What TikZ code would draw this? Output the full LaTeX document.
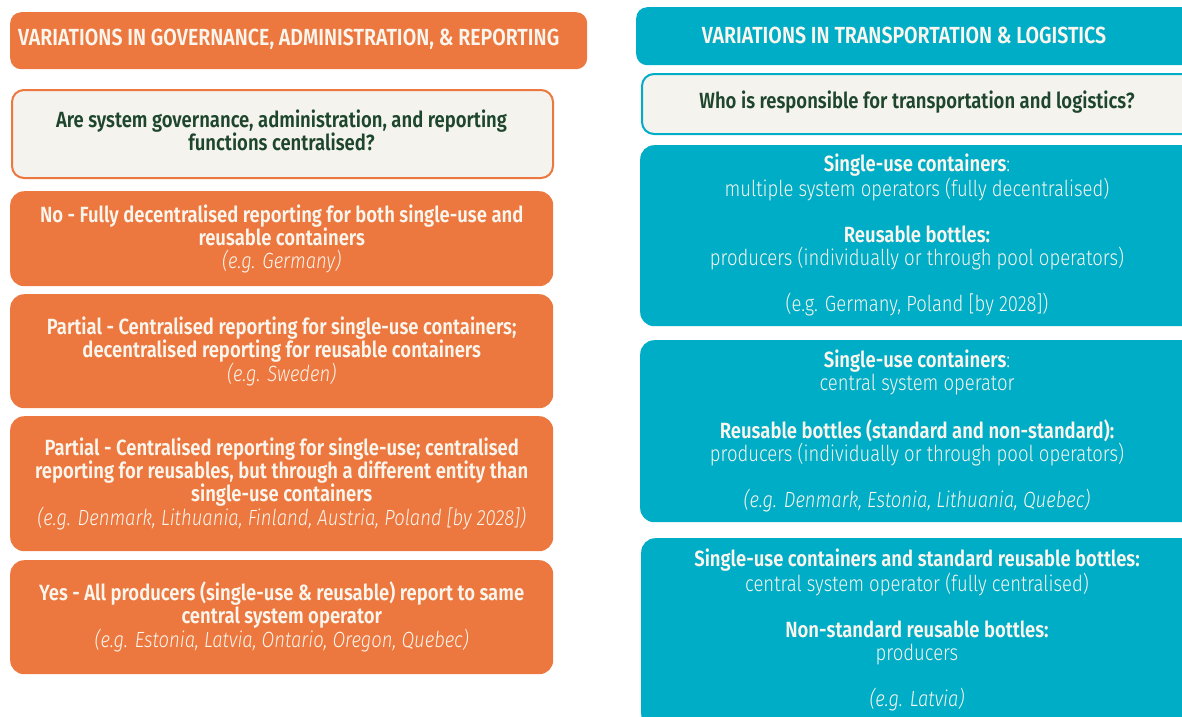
\documentclass[tikz,border=0pt]{standalone}
\usepackage{fontspec}
\setmainfont{Fira Sans}[FakeStretch=0.84, UprightFont={* Light}, BoldFont={* SemiBold}, ItalicFont={* Light Italic}, BoldItalicFont={* SemiBold Italic}]
\definecolor{orng}{RGB}{236,120,63}
\definecolor{teal}{RGB}{0,173,198}
\definecolor{cream}{RGB}{245,243,238}
\definecolor{dgreen}{RGB}{30,70,45}
\definecolor{ltxt}{RGB}{250,246,238}
\tikzset{
  base/.style={rectangle, inner sep=0pt, align=center, font=\fontsize{22}{23}\selectfont},
  txt/.style={inner sep=0pt, align=center, text=ltxt, font=\fontsize{22}{23}\selectfont},
  hdr/.style={base, rounded corners=11pt, text=ltxt, font=\fontsize{23.3}{23}\selectfont\bfseries},
  qbox/.style={base, rounded corners=12pt, fill=cream, line width=2pt, text=dgreen, font=\fontsize{22}{23}\selectfont\bfseries},
  obox/.style={base, rounded corners=14pt, fill=orng, text=ltxt},
  tbox/.style={base, rounded corners=14pt, fill=teal, text=ltxt},
}
\begin{document}
\begin{tikzpicture}[x=1pt,y=-1pt]
\useasboundingbox (0,0) rectangle (1182,716);
\clip (0,0) rectangle (1182,716);
% left column
\node[hdr, fill=orng, minimum width=577pt, minimum height=57pt, anchor=north west] (lh) at (10,12) {};
\node[anchor=west, text=ltxt, font=\fontsize{23.3}{23}\selectfont\bfseries, inner sep=0pt] (lht) at (18,39) {VARIATIONS IN GOVERNANCE, ADMINISTRATION, \& REPORTING};
\node[qbox, draw=orng, minimum width=541pt, minimum height=88pt, anchor=north west] (lq) at (11,89) {};
\node[txt, text=dgreen, font=\fontsize{22}{23}\selectfont\bfseries] (lqt) at (281.5,130) {Are system governance, administration, and reporting\\functions centralised?};
\node[obox, minimum width=543pt, minimum height=95pt, anchor=north west] (l1) at (10,191) {\textbf{No - Fully decentralised reporting for both single-use and}\\\textbf{reusable containers}\\\textit{(e.g. Germany)}};
\node[obox, minimum width=543pt, minimum height=114pt, anchor=north west] (l2) at (10,294) {\textbf{Partial - Centralised reporting for single-use containers;}\\\textbf{decentralised reporting for reusable containers}\\\textit{(e.g. Sweden)}};
\node[obox, minimum width=543pt, minimum height=135pt, anchor=north west] (l3) at (10,416) {\textbf{Partial - Centralised reporting for single-use; centralised}\\\textbf{reporting for reusables, but through a different entity than}\\\textbf{single-use containers}\\\textit{(e.g. Denmark, Lithuania, Finland, Austria, Poland [by 2028])}};
\node[obox, minimum width=543pt, minimum height=114pt, anchor=north west] (l4) at (10,560) {\textbf{Yes - All producers (single-use \& reusable) report to same}\\\textbf{central system operator}\\\textit{(e.g. Estonia, Latvia, Ontario, Oregon, Quebec)}};
% right column (boxes run past the right edge)
\node[hdr, fill=teal, minimum width=560pt, minimum height=58pt, anchor=north west] (rh) at (636,7) {};
\node[txt, font=\fontsize{23.3}{23}\selectfont\bfseries] (rht) at (904,35) {VARIATIONS IN TRANSPORTATION \& LOGISTICS};
\node[qbox, draw=teal, minimum width=560pt, minimum height=60pt, anchor=north west] (rq) at (641,73) {};
\node[txt, text=dgreen, font=\fontsize{22}{23}\selectfont\bfseries] (rqt) at (917,102) {Who is responsible for transportation and logistics?};
\node[tbox, minimum width=560pt, minimum height=181pt, anchor=north west] (r1) at (640,145) {};
\node[txt] (r1t) at (917,235) {\textbf{Single-use containers}:\\multiple system operators (fully decentralised)\\[23pt]\textbf{Reusable bottles:}\\producers (individually or through pool operators)\\[23pt](e.g. Germany, Poland [by 2028])};
\node[tbox, minimum width=560pt, minimum height=182pt, anchor=north west] (r2) at (640,340) {};
\node[txt] (r2t) at (917,431) {\textbf{Single-use containers}:\\central system operator\\[23pt]\textbf{Reusable bottles (standard and non-standard):}\\producers (individually or through pool operators)\\[23pt]\textit{(e.g. Denmark, Estonia, Lithuania, Quebec)}};
\node[tbox, minimum width=560pt, minimum height=190pt, anchor=north west] (r3) at (641,538) {};
\node[txt] (r3t) at (917,630) {\textbf{Single-use containers and standard reusable bottles:}\\central system operator (fully centralised)\\[23pt]\textbf{Non-standard reusable bottles:}\\producers\\[23pt]\textit{(e.g. Latvia)}};
\end{tikzpicture}
\end{document}
